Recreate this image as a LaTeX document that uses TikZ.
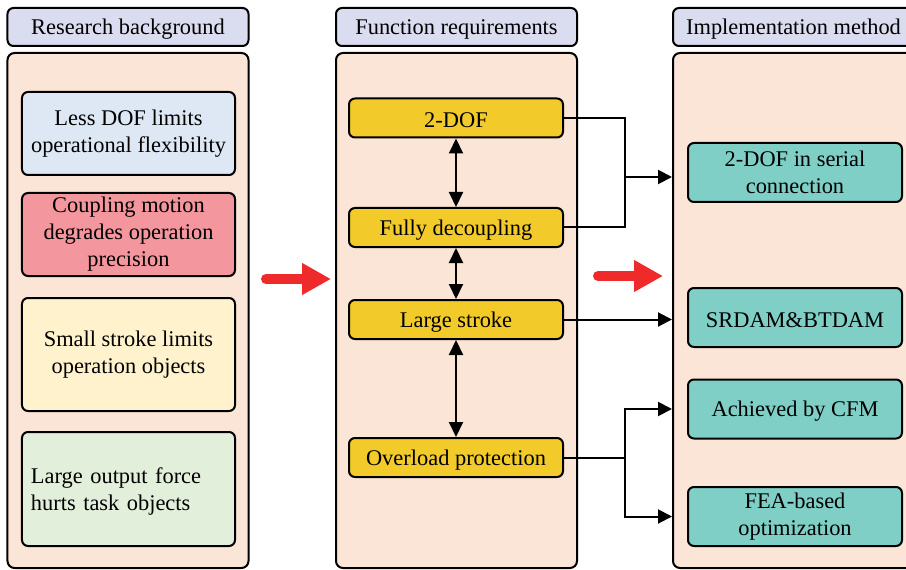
\documentclass[tikz,border=0pt]{standalone}
\usepackage{fontspec}
\setmainfont{Liberation Serif}
\usetikzlibrary{arrows.meta}
\definecolor{hdrfill}{HTML}{DADCEF}
\definecolor{panelfill}{HTML}{FBE5D6}
\definecolor{bluefill}{HTML}{DDE8F4}
\definecolor{pinkfill}{HTML}{F4969D}
\definecolor{creamfill}{HTML}{FFF2CC}
\definecolor{greenfill}{HTML}{E2EFDA}
\definecolor{goldfill}{HTML}{F2CB2A}
\definecolor{tealfill}{HTML}{7FCFC6}
\definecolor{redarrow}{HTML}{EE2A2A}
\tikzset{
  x=1bp, y=-1bp,
  % a taller first line nudges the text a little lower in its box
  box/.style={draw=black, line width=2bp, rounded corners=6bp, align=center,
    font=\fontsize{22.5}{27}\selectfont, inner sep=2bp,
    execute at begin node={\rule{0pt}{20bp}}},
  lower/.style={execute at begin node={\rule{0pt}{24bp}}},
  header/.style={box, fill=hdrfill, minimum width=241bp, minimum height=38bp},
  panel/.style={draw=black, line width=2bp, rounded corners=7bp, fill=panelfill,
    minimum width=241bp, minimum height=515bp},
  issue/.style={box, minimum width=213bp},
  need/.style={box, fill=goldfill, minimum width=214bp, minimum height=39bp},
  method/.style={box, fill=tealfill, minimum width=214bp, minimum height=59bp},
  link/.style={draw=black, line width=2bp},
  linkarrow/.style={link, -{Triangle[length=14bp,width=14bp]}},
  bothway/.style={link, {Triangle[length=15bp,width=14bp]}-{Triangle[length=15bp,width=14bp]}},
  bigarrow/.style={draw=redarrow, line width=10bp, line cap=round,
    -{Triangle[length=29bp,width=30bp]}, shorten >=-2bp}
}
\begin{document}
\begin{tikzpicture}
\useasboundingbox (0,0) rectangle (906,570);
\clip (0,0) rectangle (906,570);

% column headers
\node[header] (h1) at (128,27) {Research background};
\node[header] (h2) at (456.5,27) {Function requirements};
\node[header] (h3) at (793.5,27) {Implementation method};

% column panels
\node[panel] (p1) at (128,310.5) {};
\node[panel] (p2) at (456.5,310.5) {};
\node[panel] (p3) at (793.5,310.5) {};

% research background
\node[issue, lower, fill=bluefill, minimum height=83bp] (b1) at (128.5,133.5)
  {Less DOF limits\\operational flexibility};
\node[issue, lower, fill=pinkfill, minimum height=83bp] (b2) at (128.5,234.5)
  {Coupling motion\\degrades operation\\precision};
\node[issue, lower, fill=creamfill, minimum height=113bp] (b3) at (128.5,354.5)
  {Small stroke limits\\operation objects};
\node[issue, fill=greenfill, minimum height=114bp, align=left, text width=195bp] (b4) at (128.5,489)
  {Large output force\\hurts task objects};

% function requirements
\node[need] (f1) at (456,118) {2-DOF};
\node[need] (f2) at (456,227.5) {Fully decoupling};
\node[need] (f3) at (456,319.5) {Large stroke};
\node[need] (f4) at (456,457.5) {Overload protection};

\draw[bothway] (f1.south) -- (f2.north);
\draw[bothway] (f2.south) -- (f3.north);
\draw[bothway] (f3.south) -- (f4.north);

% implementation methods
\node[method, lower] (m1) at (795,172.5) {2-DOF in serial\\connection};
\node[method] (m2) at (795,317.5) {SRDAM\&BTDAM};
\node[method] (m3) at (795,409) {Achieved by CFM};
\node[method, lower] (m4) at (795,516.5) {FEA-based\\optimization};

% junctions and arrow ends on the right panel border
\coordinate (j1) at (625,177);
\coordinate (j2) at (625,457.5);
\coordinate (e1) at (p3.west |- j1);
\coordinate (e2) at (p3.west |- f3.east);
\coordinate (e3) at (p3.west |- m3.west);
\coordinate (e4) at (p3.west |- m4.west);

\draw[link] (f1.east) -| (j1) |- (f2.east);
\draw[linkarrow] (j1) -- (e1);
\draw[linkarrow] (f3.east) -- (e2);
\draw[link] (f4.east) -- (j2);
\draw[linkarrow] (j2) |- (e3);
\draw[linkarrow] (j2) |- (e4);

% flow between columns
\coordinate (r1s) at (266,279);
\coordinate (r1e) at (329,279);
\coordinate (r2s) at (598,276);
\coordinate (r2e) at (661,276);
\draw[bigarrow] (r1s) -- (r1e);
\draw[bigarrow] (r2s) -- (r2e);
\end{tikzpicture}
\end{document}
